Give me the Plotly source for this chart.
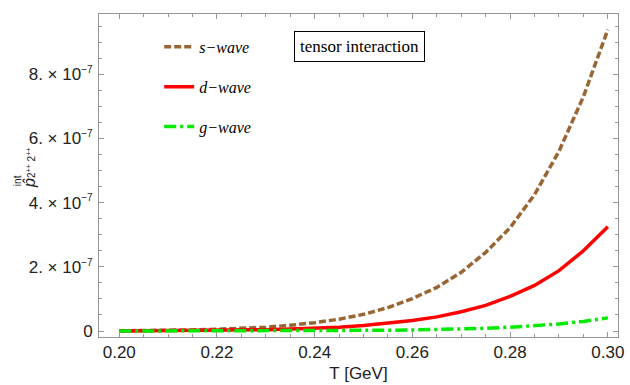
import plotly.graph_objects as go

# Temperature grid (GeV)
T = [0.200, 0.205, 0.210, 0.215, 0.220, 0.225, 0.230, 0.235, 0.240, 0.245, 0.250,
     0.255, 0.260, 0.265, 0.270, 0.275, 0.280, 0.285, 0.290, 0.295, 0.300]

# Interaction-induced contributions, tensor channel
s_wave = [0.007e-7, 0.012e-7, 0.020e-7, 0.035e-7, 0.055e-7, 0.080e-7, 0.12e-7, 0.18e-7,
          0.26e-7, 0.37e-7, 0.52e-7, 0.73e-7, 1.01e-7, 1.36e-7, 1.83e-7, 2.45e-7,
          3.22e-7, 4.25e-7, 5.60e-7, 7.30e-7, 9.39e-7]
d_wave = [0.003e-7, 0.005e-7, 0.008e-7, 0.012e-7, 0.018e-7, 0.027e-7, 0.040e-7, 0.060e-7,
          0.085e-7, 0.12e-7, 0.17e-7, 0.24e-7, 0.33e-7, 0.44e-7, 0.60e-7, 0.80e-7,
          1.08e-7, 1.42e-7, 1.88e-7, 2.50e-7, 3.25e-7]
g_wave = [0.0004e-7, 0.0006e-7, 0.0009e-7, 0.0013e-7, 0.002e-7, 0.003e-7, 0.004e-7, 0.006e-7,
          0.0085e-7, 0.012e-7, 0.017e-7, 0.024e-7, 0.033e-7, 0.045e-7, 0.062e-7, 0.085e-7,
          0.12e-7, 0.16e-7, 0.22e-7, 0.30e-7, 0.41e-7]

x_ticks = [0.20, 0.22, 0.24, 0.26, 0.28, 0.30]
x_ticktext = ["0.20", "0.22", "0.24", "0.26", "0.28", "0.30"]
y_ticks = [0, 2e-7, 4e-7, 6e-7, 8e-7]
EXP = "<sup><span style='font-size:10px'>\u22127</span></sup>"
y_ticktext = ["0"] + [f"{m}. \u00d7 10{EXP}" for m in (2, 4, 6, 8)]

BROWN = "rgb(153,102,51)"
RED = "rgb(255,0,0)"
GREEN = "rgb(0,235,0)"
FRAME = "rgb(150,150,150)"
TEXT = "#222"
SANS = "Liberation Sans, Arial, sans-serif"
SERIF = "Liberation Serif, Times New Roman, serif"

fig = go.Figure()
fig.add_trace(go.Scatter(x=T, y=s_wave, mode="lines", name="<i>s\u2212wave</i>",
                         legendgroup="s",
                         line=dict(color=BROWN, width=3.5, dash="7px,3px")))
fig.add_trace(go.Scatter(x=T, y=d_wave, mode="lines", name="<i>d\u2212wave</i>",
                         legendgroup="d",
                         line=dict(color=RED, width=3.5)))
fig.add_trace(go.Scatter(x=T, y=g_wave, mode="lines", name="<i>g\u2212wave</i>",
                         legendgroup="g",
                         line=dict(color=GREEN, width=3.5, dash="12px,4px,3px,4px")))

axis_common = dict(
    showline=True, linecolor=FRAME, linewidth=1, mirror="ticks",
    ticks="inside", tickcolor=FRAME, ticklen=5, tickwidth=1,
    showgrid=False, zeroline=False, ticklabeloverflow="allow",
    tickfont=dict(family=SANS, size=17, color=TEXT),
)

fig.update_xaxes(
    range=[0.19585, 0.30208], tickvals=x_ticks, ticktext=x_ticktext,
    minor=dict(dtick=0.005, ticks="inside", ticklen=3, tickcolor=FRAME, showgrid=False),
    title=dict(text="T [GeV]", font=dict(family=SANS, size=17, color=TEXT), standoff=5),
    **axis_common,
)
fig.update_yaxes(
    range=[-0.186e-7, 9.876e-7], tickvals=y_ticks, ticktext=y_ticktext,
    minor=dict(dtick=0.5e-7, tick0=0, ticks="inside", ticklen=3, tickcolor=FRAME, showgrid=False),
    ticklabelstandoff=2,
    **axis_common,
)

# y-axis label: p-hat with superscript "int" and subscript "2++ 2++"
label_common = dict(xref="paper", yref="paper", textangle=-90, showarrow=False,
                    xanchor="center", yanchor="middle")
fig.add_annotation(text="<i>p\u0302</i>", x=-0.1352, y=0.4762,
                   font=dict(family=SANS, size=16, color=TEXT), **label_common)
fig.add_annotation(text="2<sup>++</sup> 2<sup>++</sup>", x=-0.1310, y=0.5390,
                   font=dict(family=SANS, size=10, color=TEXT), **label_common)
fig.add_annotation(text="int", x=-0.1571, y=0.4840,
                   font=dict(family=SANS, size=10, color=TEXT), **label_common)

# boxed channel label
fig.add_annotation(
    text="tensor interaction", xref="paper", yref="paper", x=0.501, y=0.9006,
    xanchor="center", yanchor="middle",
    showarrow=False, bordercolor="black", borderwidth=1, borderpad=5,
    font=dict(family=SERIF, size=17, color="black"),
)

fig.update_layout(
    width=630, height=385,
    margin=dict(l=99, r=6, t=14, b=47),
    paper_bgcolor="white", plot_bgcolor="white",
    showlegend=True,
    legend=dict(x=0.116, y=0.9506, xanchor="left", yanchor="top",
                bgcolor="rgba(0,0,0,0)", tracegroupgap=16,
                font=dict(family=SERIF, size=16, color="black")),
)

fig.write_html("out.html")
